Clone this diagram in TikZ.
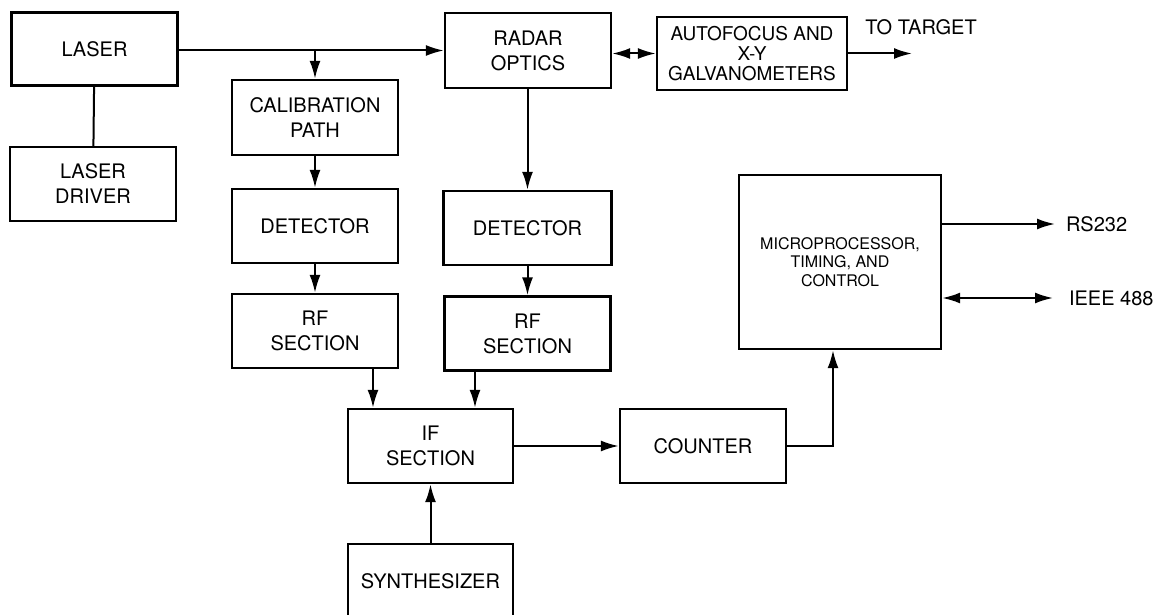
\documentclass[tikz,border=0pt]{standalone}
\usepackage{fontspec}
\setmainfont{TeX Gyre Heros}
\usetikzlibrary{arrows.meta}

\begin{document}
\begin{tikzpicture}[x=1pt, y=-1pt, line width=2pt,
    blk/.style={draw, line width=2.4pt, inner sep=0pt, align=center,
        minimum width=166pt, minimum height=74pt, font=\fontsize{20}{25}\selectfont},
    lbl/.style={inner sep=0pt, font=\fontsize{20}{24}\selectfont},
    >={Latex[length=18pt,width=11pt]}]
    \useasboundingbox (0,0) rectangle (1159,615);

    \node[blk, minimum height=73pt] (L) at (94.5,49) {LASER};
    \node[blk] (LD) at (93,184) {LASER\\DRIVER};
    \node[blk, minimum height=75pt] (CP) at (315,117.5) {CALIBRATION\\PATH};
    \node[blk] (D1) at (315,226) {DETECTOR};
    \node[blk] (RF1) at (315,331) {RF\\SECTION};
    \node[blk, minimum height=75pt] (RO) at (528,50.5) {RADAR\\OPTICS};
    \node[blk, minimum width=168pt] (D2) at (527.5,228) {DETECTOR};
    \node[blk] (RF2) at (527.5,333.5) {RF\\SECTION};
    \node[blk, minimum width=165pt] (IF) at (430.5,446) {IF\\SECTION};
    \node[blk, minimum width=165pt] (SY) at (430.5,581) {SYNTHESIZER};
    \node[blk] (CT) at (703,446) {COUNTER};
    \node[blk, minimum width=202pt, minimum height=174pt,
        font=\fontsize{16}{18.5}\selectfont] (MP) at (840,262) {MICROPROCESSOR,\\TIMING, AND\\CONTROL};
    \node[blk, minimum width=190pt, minimum height=73pt,
        font=\fontsize{19}{20}\selectfont] (AF) at (752,53.5) {AUTOFOCUS AND\\X-Y\\GALVANOMETERS};

    % outputs
    \node[lbl] (TT) at (921,27) {TO TARGET};
    \coordinate (T) at (912,53.5);
    \node[lbl, anchor=west, inner xsep=10pt] (RS) at (1055,224) {RS232};
    \node[lbl, anchor=west, inner xsep=15pt] (IE) at (1053,298) {IEEE 488};

    \draw[->] (L.east |- RO) -- (RO);
    \coordinate (B) at (CP.north |- RO);
    \draw[->] (B) -- (CP);
    \draw (L) -- (LD);
    \draw[->] (CP) -- (D1);
    \draw[->] (D1) -- (RF1);
    \draw[->] (RO.south -| D2) -- (D2);
    \draw[->] (D2) -- (RF2);
    \draw[->] ([xshift=58pt]RF1.south) -- ([xshift=58pt]RF1.south |- IF.north);
    \draw[->] ([xshift=-52.5pt]RF2.south) -- ([xshift=-52.5pt]RF2.south |- IF.north);
    \draw[->] (SY) -- (IF);
    \draw[->] (IF) -- (CT);
    \draw[->] (CT.east) -| ([xshift=-7pt]MP.south);
    \draw[<->] (AF.west -| RO.east) -- (AF.west);
    \draw[->] (AF.east) -- (T);
    \draw[->] (MP.east |- RS) -- (RS.west);
    \draw[<->] (MP.east |- IE) -- (IE.west);
\end{tikzpicture}
\end{document}
